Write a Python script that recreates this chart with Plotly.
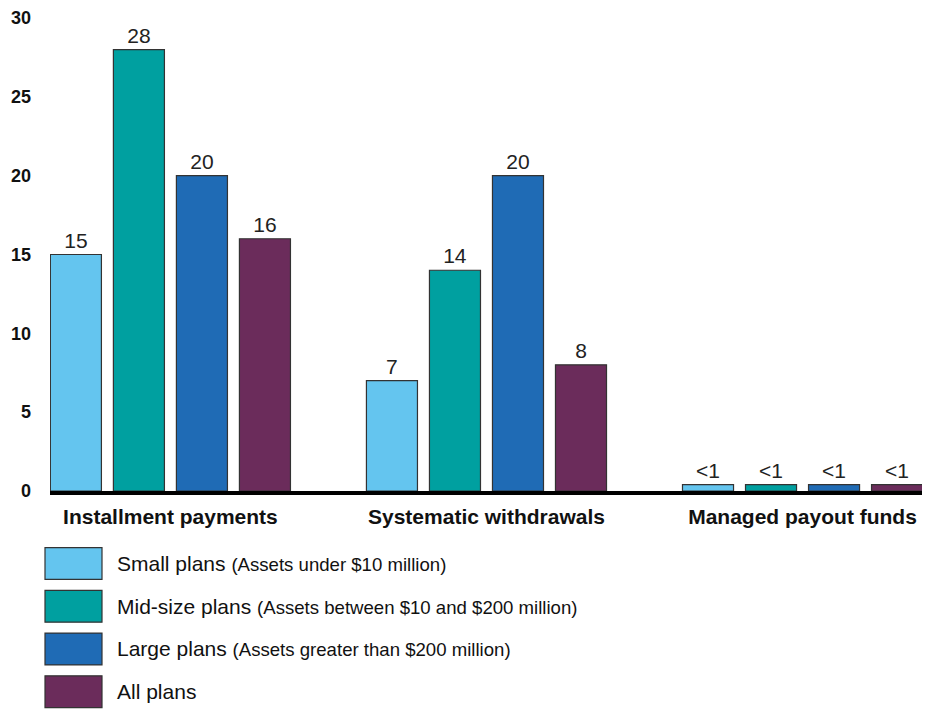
import plotly.graph_objects as go

categories = ["Installment payments", "Systematic withdrawals", "Managed payout funds"]
series_names = ["Small plans", "Mid-size plans", "Large plans", "All plans"]
series_notes = ["(Assets under $10 million)", "(Assets between $10 and $200 million)",
                "(Assets greater than $200 million)", ""]
small_vals = [15, 7, 0.4]
mid_vals = [28, 14, 0.4]
large_vals = [20, 20, 0.4]
all_vals = [16, 8, 0.4]
small_text = ["15", "7", "<1"]
mid_text = ["28", "14", "<1"]
large_text = ["20", "20", "<1"]
all_text = ["16", "8", "<1"]
colors = ["#64C5EF", "#00A0A0", "#1F6BB5", "#6B2C5B"]
y_ticks = [0, 5, 10, 15, 20, 25, 30]

W, H = 930, 709
L, R, T, B = 50, 8, 15, 218
plot_h = H - T - B
FONT = "Liberation Sans, Arial"

def py2paper(py):
    return (H - B - py) / plot_h

def px2paper(px):
    return (px - L) / (W - L - R)

fig = go.Figure()
xs = [0, 1, 2]
for name, vals, txt, col in zip(series_names,
                                [small_vals, mid_vals, large_vals, all_vals],
                                [small_text, mid_text, large_text, all_text],
                                colors):
    fig.add_trace(go.Bar(
        x=xs, y=vals, name=name, text=txt, textposition="outside",
        textfont=dict(size=21, color="#222222", family=FONT),
        marker=dict(color=col, line=dict(color="#333333", width=1.2)),
        cliponaxis=False, showlegend=False,
    ))

# custom legend
box_tops = [548, 591, 634, 677]
for name, note, col, top in zip(series_names, series_notes, colors, box_tops):
    fig.add_shape(type="rect", xref="paper", yref="paper",
                  x0=px2paper(45), x1=px2paper(102),
                  y0=py2paper(top), y1=py2paper(top + 32),
                  fillcolor=col, line=dict(color="#333333", width=1.2))
    label = name
    if note:
        label += " <span style='font-size:18.6px'>" + note + "</span>"
    fig.add_annotation(xref="paper", yref="paper", x=px2paper(115), y=py2paper(top + 16),
                       text=label, showarrow=False, xanchor="left", yanchor="middle",
                       font=dict(size=21, color="#111111", family=FONT))

fig.update_layout(
    width=W, height=H,
    margin=dict(l=L, r=R, t=T, b=B),
    paper_bgcolor="white", plot_bgcolor="white",
    barmode="group", bargap=0.2025, bargroupgap=0.19,
    font=dict(family=FONT, color="#111111"),
    xaxis=dict(
        range=[-0.381, 2.378], tickvals=xs,
        ticktext=[f"<b>{c}</b>" for c in categories],
        tickfont=dict(size=21, color="#111111", family=FONT),
        showline=True, linecolor="black", linewidth=4, showgrid=False,
        ticks="", zeroline=False, ticklabelstandoff=4,
    ),
    yaxis=dict(
        range=[0, 30], tickvals=y_ticks, ticktext=[f"<b>{v}</b>" for v in y_ticks],
        tickfont=dict(size=18, color="#111111", family=FONT),
        showgrid=False, zeroline=False, showline=False, ticks="",
        ticklabelstandoff=18,
    ),
)

fig.write_html("out.html", config={"displayModeBar": False},
               post_script="document.body.style.margin='0';document.body.style.padding='0';")
